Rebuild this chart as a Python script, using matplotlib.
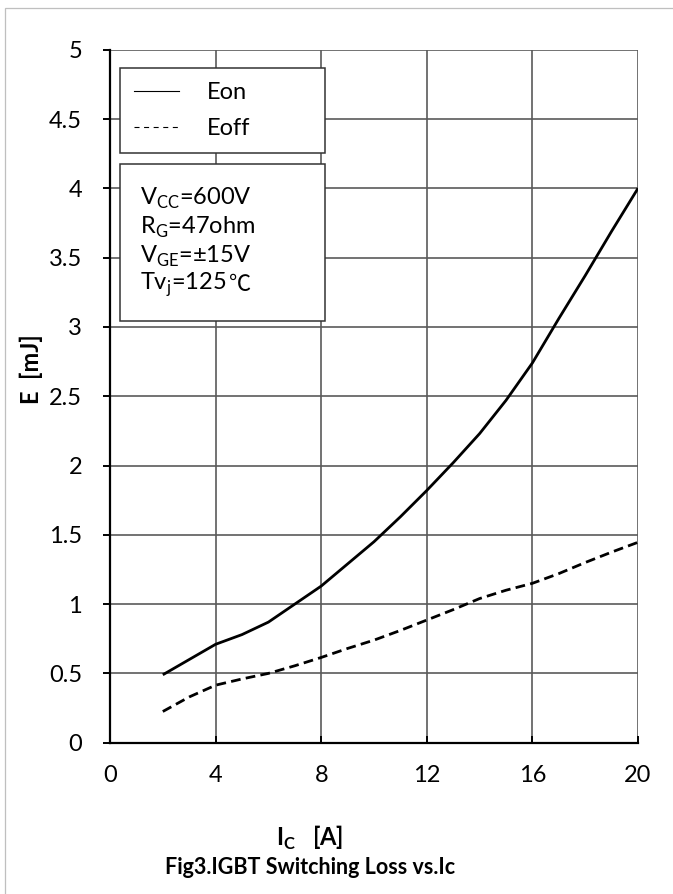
import matplotlib
matplotlib.use('Agg')
import matplotlib.pyplot as plt
from matplotlib.lines import Line2D
from matplotlib.patches import Rectangle
from matplotlib.text import Annotation

# switching loss vs collector current
ic = [2, 3, 4, 5, 6, 7, 8, 9, 10, 11, 12, 13, 14, 15, 16, 17, 18, 19, 20]
eon = [0.49, 0.60, 0.71, 0.78, 0.87, 1.00, 1.13, 1.29, 1.45, 1.63, 1.82,
       2.02, 2.23, 2.47, 2.74, 3.06, 3.37, 3.69, 4.00]
eoff = [0.225, 0.33, 0.415, 0.46, 0.50, 0.555, 0.615, 0.68, 0.74, 0.81, 0.885,
        0.96, 1.04, 1.10, 1.15, 1.22, 1.30, 1.375, 1.446]

xticks = [0, 4, 8, 12, 16, 20]
yticks = [0, 0.5, 1, 1.5, 2, 2.5, 3, 3.5, 4, 4.5, 5]
ytick_labels = ['0', '0.5', '1', '1.5', '2', '2.5', '3', '3.5', '4', '4.5', '5']
conditions = [r'V$_\mathregular{CC}$=600V',
              r'R$_\mathregular{G}$=47ohm',
              r'V$_\mathregular{GE}$=$\mathregular{\pm}$15V',
              r'Tv$_\mathregular{j}$=125']

plt.rcParams['font.family'] = ['Lato', 'DejaVu Sans']
plt.rcParams['lines.scale_dashes'] = False

FS = 17
W, H = 673, 894
fig = plt.figure(figsize=(W / 100, H / 100), dpi=100)

def fx(px):
    return px / W

def fy(py):
    return 1 - py / H

# grey frame round the whole figure
fig.add_artist(Rectangle((fx(5), -0.1), 1.2, fy(8) + 0.1, transform=fig.transFigure,
                         fill=False, edgecolor='#bfbfbf', lw=0.9, zorder=0))

ax = fig.add_axes([fx(110), fy(742.7), fx(638) - fx(110), fy(49.7) - fy(742.7)])
ax.plot(ic, eon, color='black', lw=2.0, solid_capstyle='butt', zorder=3)
ax.plot(ic, eoff, color='black', lw=2.0, dashes=(7, 3.8), zorder=3)

ax.set_xlim(0, 20)
ax.set_ylim(0, 5)
ax.set_xticks(xticks)
ax.set_yticks(yticks)
ax.set_yticklabels(ytick_labels)
ax.grid(True, color='#5a5a5a', lw=1.2)
ax.set_axisbelow(True)
for s in ['top', 'right']:
    ax.spines[s].set_visible(False)
for s in ['left', 'bottom']:
    ax.spines[s].set_linewidth(1.6)
ax.tick_params(axis='y', direction='out', length=5, width=1.4, pad=15, labelsize=FS)
ax.tick_params(axis='x', direction='in', length=5, width=1.4, pad=16, labelsize=FS)

# legend box
handles = [Line2D([], [], color='black', lw=0.8),
           Line2D([], [], color='black', lw=0.8, dashes=(3.6, 3.3))]
leg = ax.legend(handles, ['Eon', 'Eoff'], loc='upper left',
                bbox_to_anchor=(fx(120), fy(68), fx(325) - fx(120), 0),
                bbox_transform=fig.transFigure, mode='expand', borderaxespad=0,
                fancybox=False, framealpha=1, edgecolor='#333333', fontsize=FS,
                handlelength=1.9, handletextpad=1.2, borderpad=0.6, labelspacing=0.62)
leg.get_frame().set_linewidth(1.1)

# test conditions box
fig.add_artist(Rectangle((fx(120), fy(321)), fx(325) - fx(120), fy(164) - fy(321),
                         transform=fig.transFigure, facecolor='white',
                         edgecolor='#333333', lw=1.1, zorder=2))
rows = [198, 227, 256, 285]
for s, r in zip(conditions, rows):
    t = fig.text(fx(140), fy(r), s, fontsize=FS, va='center', zorder=3)
# degree Celsius sign after the junction temperature
deg = Annotation('℃', xy=(1, fy(rows[-1]) + 0.001), xycoords=(t, 'figure fraction'),
                 xytext=(2, 0), textcoords='offset points', fontsize=FS - 1,
                 family=['Noto Sans CJK SC'], va='center', ha='left',
                 annotation_clip=False)
deg.set_zorder(3)
fig.add_artist(deg)

fig.text(fx(31), fy(369), 'E  [mJ]', rotation=90, fontsize=FS, fontweight='bold',
         ha='center', va='center')
fig.text(fx(310), fy(838), r'I$_\mathregular{C}$   [A]', fontsize=FS, fontweight='bold',
         ha='center', va='center')
fig.text(fx(310), fy(867), 'Fig3.IGBT Switching Loss vs.Ic', fontsize=15.5,
         fontweight='bold', ha='center', va='center')

fig.savefig('out.png', dpi=100)
